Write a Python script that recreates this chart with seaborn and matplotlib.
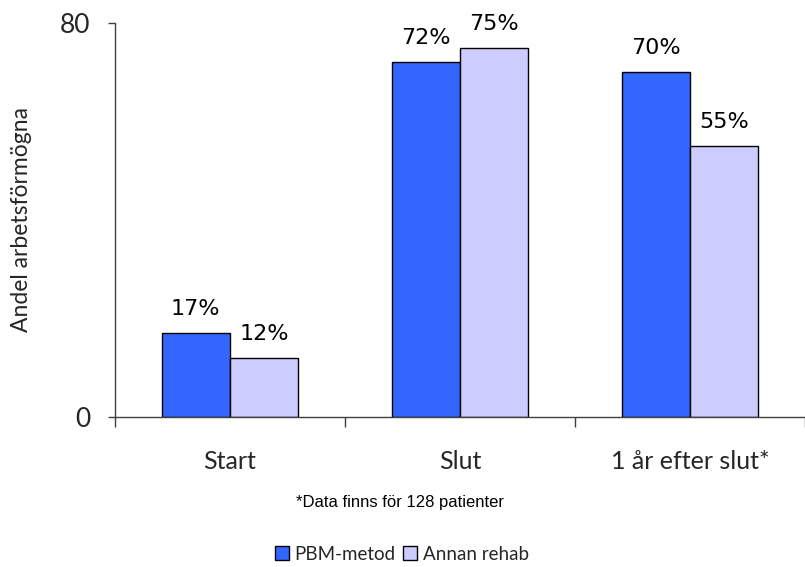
import numpy as np
import pandas as pd
import matplotlib
matplotlib.use("Agg")
import matplotlib.pyplot as plt
from matplotlib import font_manager
from matplotlib.patches import Patch
import seaborn as sns

categories = ["Start", "Slut", "1 år efter slut*"]
pbm_values = [17, 72, 70]
annan_values = [12, 75, 55]
series_names = ["PBM-metod", "Annan rehab"]
value_labels_pbm = ["17%", "72%", "70%"]
value_labels_annan = ["12%", "75%", "55%"]
y_ticks = [0, 80]
y_label = "Andel arbetsförmögna"
footnote = "*Data finns för 128 patienter"

colors = ["#3366FF", "#CCCCFF"]

sns.set_theme(style="white")
plt.rcParams["font.family"] = ["Lato", "DejaVu Sans"]

available = {f.name for f in font_manager.fontManager.ttflist}
note_font = "Liberation Sans Narrow" if "Liberation Sans Narrow" in available else "Liberation Sans"

df = pd.DataFrame({
    "category": categories * 2,
    "series": [series_names[0]] * 3 + [series_names[1]] * 3,
    "value": pbm_values + annan_values,
})

fig = plt.figure(figsize=(8.05, 5.67), dpi=100)
ax = fig.add_axes([115 / 805, 1 - 417 / 567, 690 / 805, 394 / 567])

sns.barplot(data=df, x="category", y="value", hue="series", order=categories,
            hue_order=series_names, palette=colors, width=0.595, gap=0,
            edgecolor="black", linewidth=1.0, saturation=1, ax=ax, legend=False)

ax.set_ylim(0, 80)
ax.set_xlim(-0.5, 2.474)

# spines
for s in ["top", "right"]:
    ax.spines[s].set_visible(False)
for s in ["left", "bottom"]:
    ax.spines[s].set_color("#404040")
    ax.spines[s].set_linewidth(1.0)

# y ticks
ax.set_yticks(y_ticks)
ax.set_yticklabels([str(t) for t in y_ticks], fontsize=19)
ax.tick_params(axis="y", direction="out", length=5, width=1, color="#404040", pad=13, left=True)

# x: tick marks at category boundaries, labels at centers
ax.set_xticks([-0.5, 0.5, 1.5, 2.5])
ax.set_xticklabels([])
ax.tick_params(axis="x", which="major", direction="out", length=7, width=1, color="#404040", bottom=True)
ax.set_xticks(range(len(categories)), minor=True)
ax.set_xticklabels(categories, minor=True, fontsize=18)
ax.tick_params(axis="x", which="minor", length=0, pad=24)
ax.set_xlabel("")

ax.set_ylabel(y_label, fontsize=16.5)
ax.yaxis.set_label_coords(-0.12, 0.5)

# value labels above bars
bars = ax.patches
label_texts = value_labels_pbm + value_labels_annan
values = pbm_values + annan_values
for bar, txt, v in zip(bars[:6], label_texts, values):
    cx = bar.get_x() + bar.get_width() / 2
    ax.annotate(txt, (cx, v), xytext=(0, 13), textcoords="offset points",
                ha="center", va="baseline", fontsize=16,
                family="DejaVu Sans", color="black")

fig.text(400 / 805, 1 - 502 / 567, footnote, ha="center", va="center",
         fontsize=12, family=note_font, color="black")

handles = [Patch(facecolor=c, edgecolor="black", linewidth=1.0) for c in colors]
fig.legend(handles, series_names, loc="center", bbox_to_anchor=(402 / 805, 1 - 554 / 567),
           ncol=2, frameon=False, fontsize=13.5, handlelength=0.75, handleheight=0.75,
           handletextpad=0.3, columnspacing=0.4)

fig.savefig("out.png", dpi=100)
